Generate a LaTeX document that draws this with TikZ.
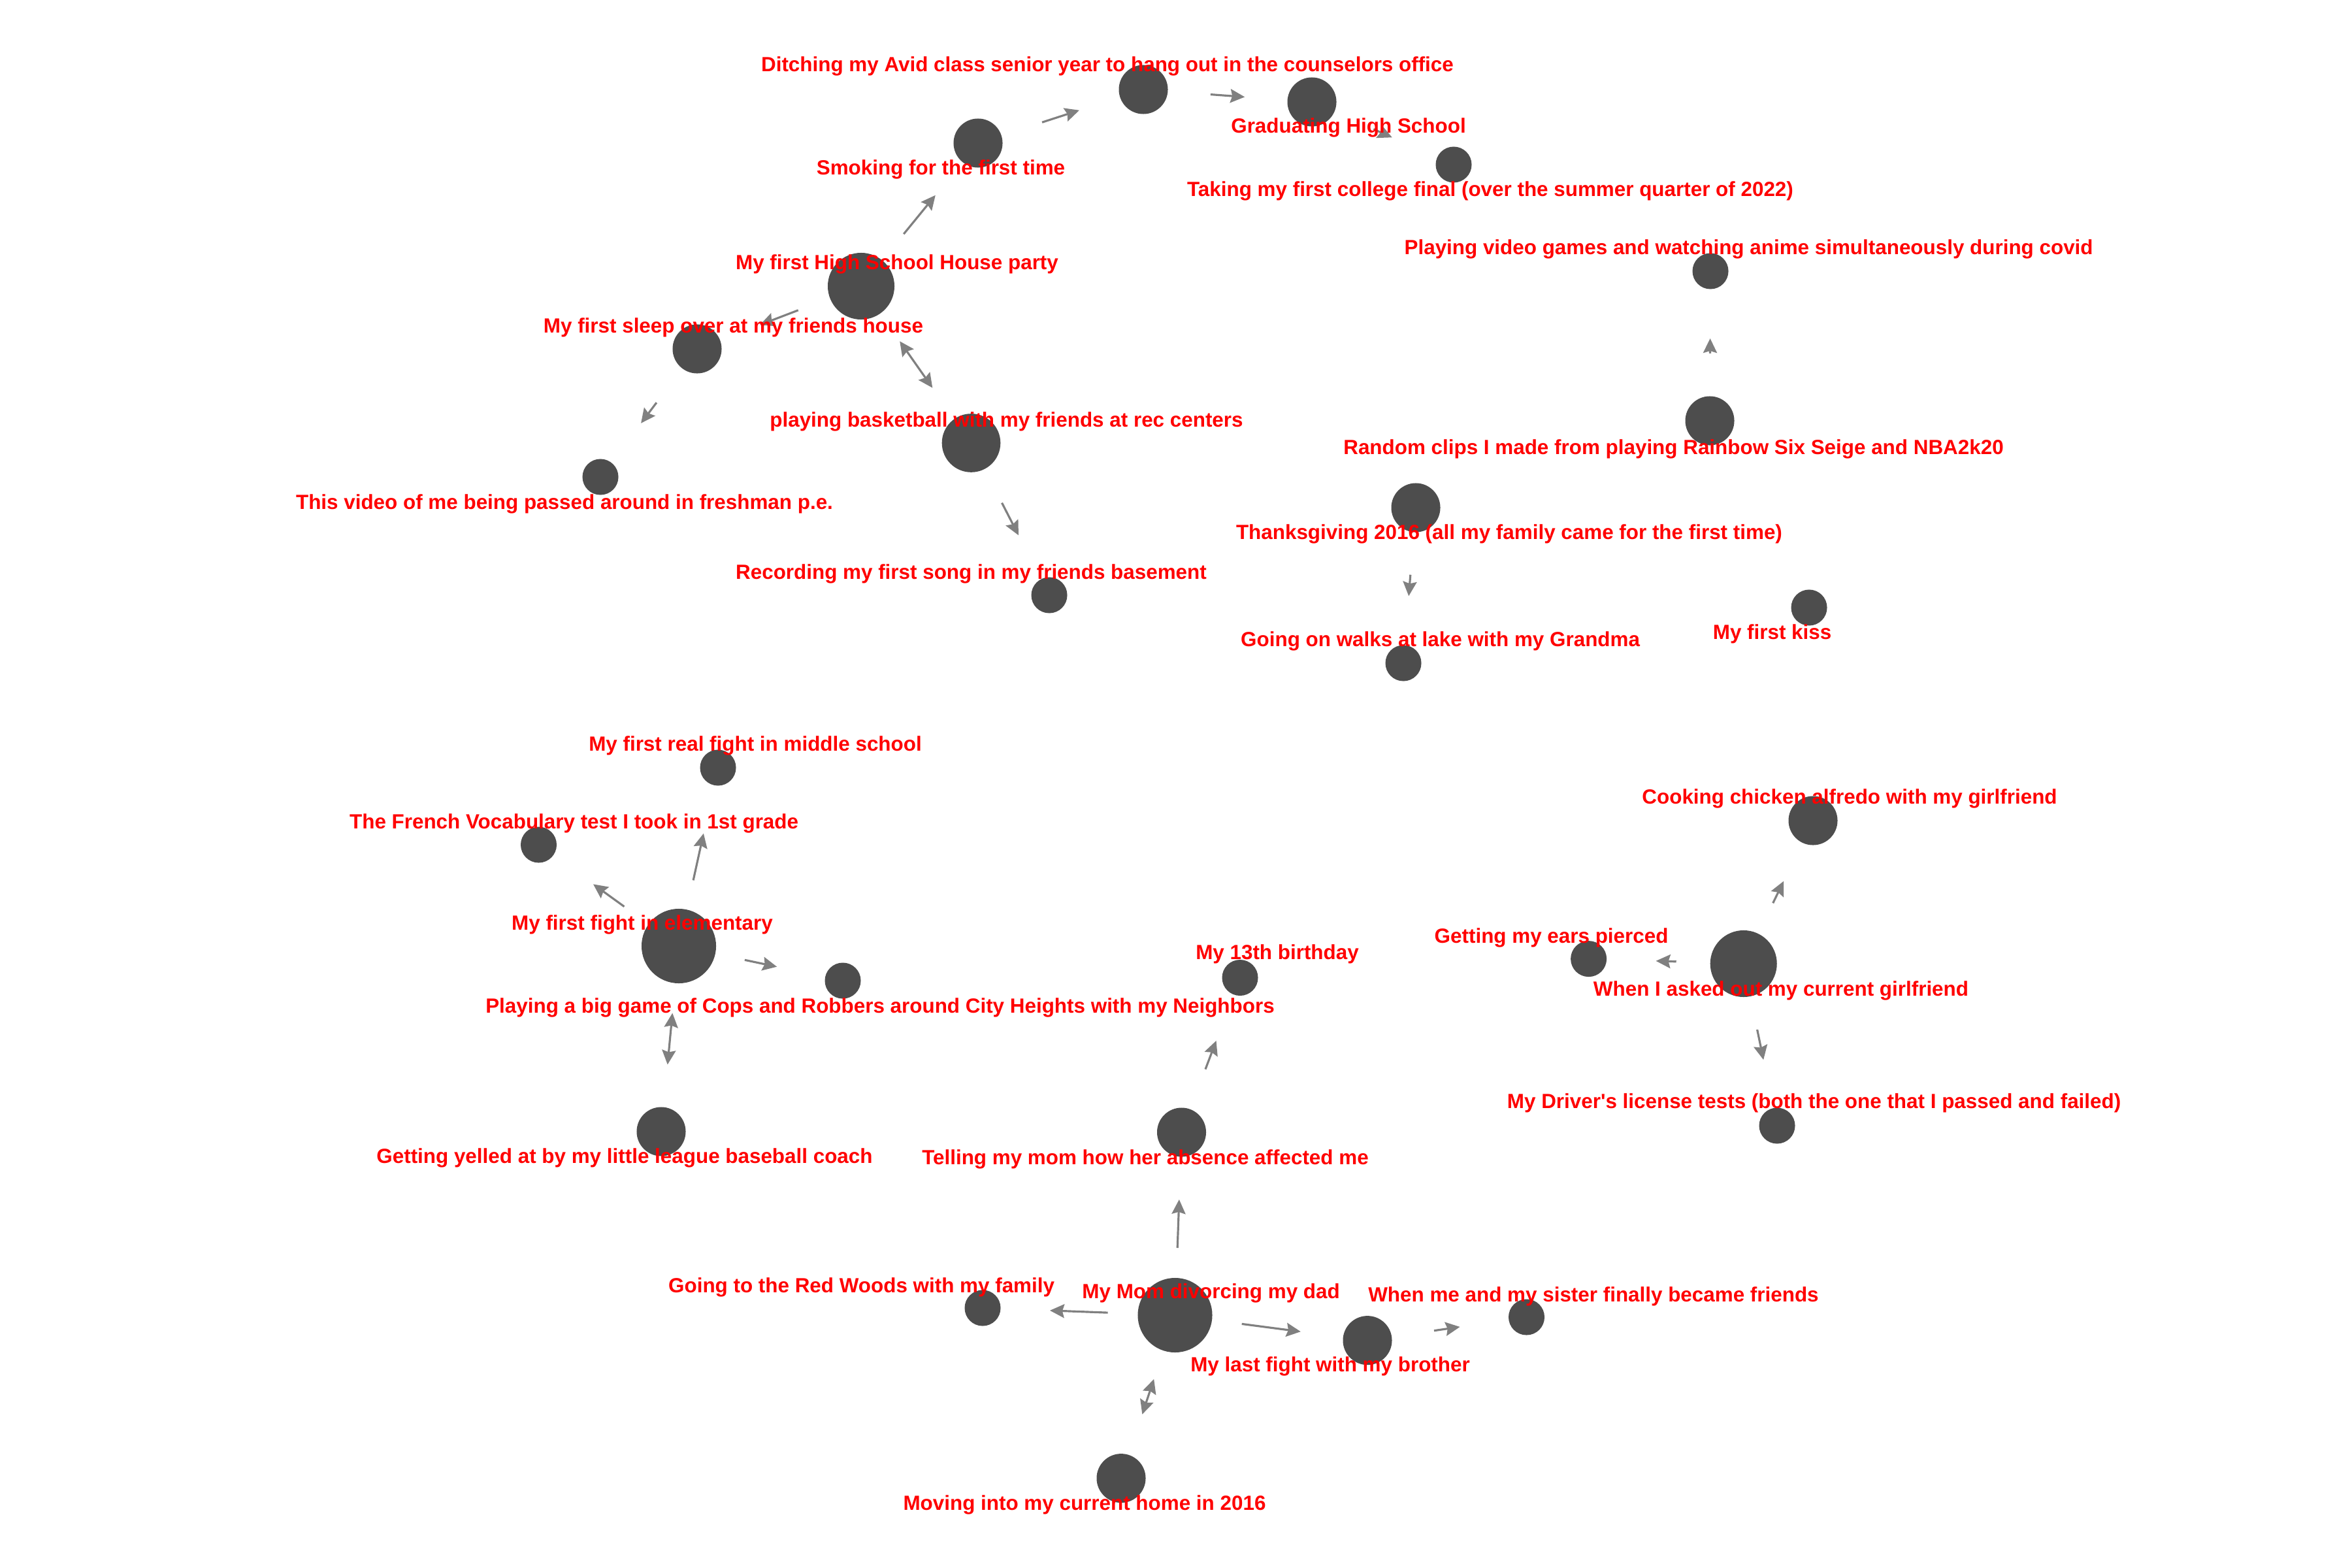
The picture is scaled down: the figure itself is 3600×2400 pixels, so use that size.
\documentclass[tikz,border=0pt]{standalone}
\usepackage{fontspec}
\setmainfont{Liberation Sans}
\usetikzlibrary{arrows.meta}
\definecolor{vgray}{HTML}{4D4D4D}
\definecolor{egray}{HTML}{808080}
\begin{document}
\begin{tikzpicture}[x=0.01cm,y=-0.01cm,
  vbase/.style={circle,fill=vgray,draw=none,inner sep=0pt},
  vs/.style={vbase,minimum size=0.55cm},
  vm/.style={vbase,minimum size=0.75cm},
  vl/.style={vbase,minimum size=0.896cm},
  vxl/.style={vbase,minimum size=1.02cm},
  vxxl/.style={vbase,minimum size=1.14cm},
  lbl/.style={text=red,font=\fontsize{8.93pt}{10pt}\selectfont\bfseries,anchor=base,inner sep=0pt},
  edge/.style={draw=egray,line width=0.9pt,-{Stealth[length=0.22cm,width=0.21cm,inset=0.03cm]},shorten <=1.03cm,shorten >=1.03cm},
  dedge/.style={edge,{Stealth[length=0.22cm,width=0.21cm,inset=0.03cm]}-{Stealth[length=0.22cm,width=0.21cm,inset=0.03cm]}}
]
\useasboundingbox[fill=white] (0,0) rectangle (3600,2400);
% vertices
\node[vm]   (ditch)    at (1750,137) {};
\node[vm]   (grad)     at (2008,156) {};
\node[vs]   (final)    at (2225,252) {};
\node[vm]   (smoke)    at (1497,219) {};
\node[vxl]  (house)    at (1318,438) {};
\node[vm]   (sleep)    at (1067,534) {};
\node[vs]   (video)    at (919,730) {};
\node[vl]   (basket)   at (1486.5,678) {};
\node[vs]   (record)   at (1606,911) {};
\node[vs]   (playing)  at (2618,415) {};
\node[vm]   (random)   at (2617,644) {};
\node[vm]   (thanks)   at (2167,777) {};
\node[vs]   (walks)    at (2148,1015) {};
\node[vs]   (kiss)     at (2769,930) {};
\node[vs]   (real)     at (1099,1175) {};
\node[vs]   (french)   at (824.5,1293) {};
\node[vxxl] (first)    at (1039,1448) {};
\node[vs]   (cops)     at (1290,1501) {};
\node[vs]   (bday)     at (1898,1496.5) {};
\node[vm]   (yelled)   at (1012,1732) {};
\node[vm]   (telling)  at (1808.5,1733) {};
\node[vm]   (cooking)  at (2775,1256) {};
\node[vs]   (ears)     at (2431.6,1467.6) {};
\node[vxl]  (asked)    at (2668.7,1475) {};
\node[vs]   (driver)   at (2720,1723) {};
\node[vs]   (redwoods) at (1504,2002) {};
\node[vxxl] (mom)      at (1798.5,2013) {};
\node[vm]   (lastfight) at (2093,2051.6) {};
\node[vs]   (sister)   at (2336.5,2016) {};
\node[vm]   (moving)   at (1716,2262.6) {};
% edges
\draw[edge] (smoke.center) -- (ditch.center);
\draw[edge] (ditch.center) -- (grad.center);
\draw[edge] (grad.center) -- (final.center);
\draw[edge] (house.center) -- (smoke.center);
\draw[edge] (house.center) -- (sleep.center);
\draw[edge] (sleep.center) -- (video.center);
\draw[dedge] (house.center) -- (basket.center);
\draw[edge] (basket.center) -- (record.center);
\draw[edge] (random.center) -- (playing.center);
\draw[edge] (thanks.center) -- (walks.center);
\draw[edge] (first.center) -- (real.center);
\draw[edge] (first.center) -- (french.center);
\draw[edge] (first.center) -- (cops.center);
\draw[dedge] (first.center) -- (yelled.center);
\draw[edge] (telling.center) -- (bday.center);
\draw[edge] (asked.center) -- (cooking.center);
\draw[edge] (asked.center) -- (ears.center);
\draw[edge] (asked.center) -- (driver.center);
\draw[edge] (mom.center) -- (telling.center);
\draw[edge] (mom.center) -- (redwoods.center);
\draw[edge] (mom.center) -- (lastfight.center);
\draw[edge] (lastfight.center) -- (sister.center);
\draw[dedge] (mom.center) -- (moving.center);
% labels
\node[lbl] (ditch-l) at (1695,110) {Ditching my Avid class senior year to hang out in the counselors office};
\node[lbl] (grad-l) at (2064,203) {Graduating High School};
\node[lbl] (final-l) at (2281,300) {Taking my first college final (over the summer quarter of 2022)};
\node[lbl] (smoke-l) at (1440,268) {Smoking for the first time};
\node[lbl] (house-l) at (1373,412.6) {My first High School House party};
\node[lbl] (sleep-l) at (1122.5,509) {My first sleep over at my friends house};
\node[lbl] (video-l) at (864,779) {This video of me being passed around in freshman p.e.};
\node[lbl] (basket-l) at (1540.5,653.5) {playing basketball with my friends at rec centers};
\node[lbl] (record-l) at (1486.5,886) {Recording my first song in my friends basement};
\node[lbl] (playing-l) at (2676.6,389) {Playing video games and watching anime simultaneously during covid};
\node[lbl] (random-l) at (2561.5,695) {Random clips I made from playing Rainbow Six Seige and NBA2k20};
\node[lbl] (thanks-l) at (2310,825) {Thanksgiving 2016 (all my family came for the first time)};
\node[lbl] (walks-l) at (2204.6,989) {Going on walks at lake with my Grandma};
\node[lbl] (kiss-l) at (2712.6,978.7) {My first kiss};
\node[lbl] (real-l) at (1156,1149) {My first real fight in middle school};
\node[lbl] (french-l) at (878.6,1268) {The French Vocabulary test I took in 1st grade};
\node[lbl] (first-l) at (983,1423) {My first fight in elementary};
\node[lbl] (cops-l) at (1347,1550.7) {Playing a big game of Cops and Robbers around City Heights with my Neighbors};
\node[lbl] (bday-l) at (1955,1468) {My 13th birthday};
\node[lbl] (yelled-l) at (956,1780) {Getting yelled at by my little league baseball coach};
\node[lbl] (telling-l) at (1753,1782.6) {Telling my mom how her absence affected me};
\node[lbl] (cooking-l) at (2831,1230.8) {Cooking chicken alfredo with my girlfriend};
\node[lbl] (ears-l) at (2374.6,1443) {Getting my ears pierced};
\node[lbl] (asked-l) at (2726,1524) {When I asked out my current girlfriend};
\node[lbl] (driver-l) at (2776.6,1696.5) {My Driver\textquotesingle s license tests (both the one that I passed and failed)};
\node[lbl] (redwoods-l) at (1318.6,1978) {Going to the Red Woods with my family};
\node[lbl] (mom-l) at (1853.6,1987.8) {My Mom divorcing my dad};
\node[lbl] (lastfight-l) at (2036,2099.7) {My last fight with my brother};
\node[lbl] (sister-l) at (2439,1992) {When me and my sister finally became friends};
\node[lbl] (moving-l) at (1660,2311) {Moving into my current home in 2016};
\end{tikzpicture}
\end{document}
